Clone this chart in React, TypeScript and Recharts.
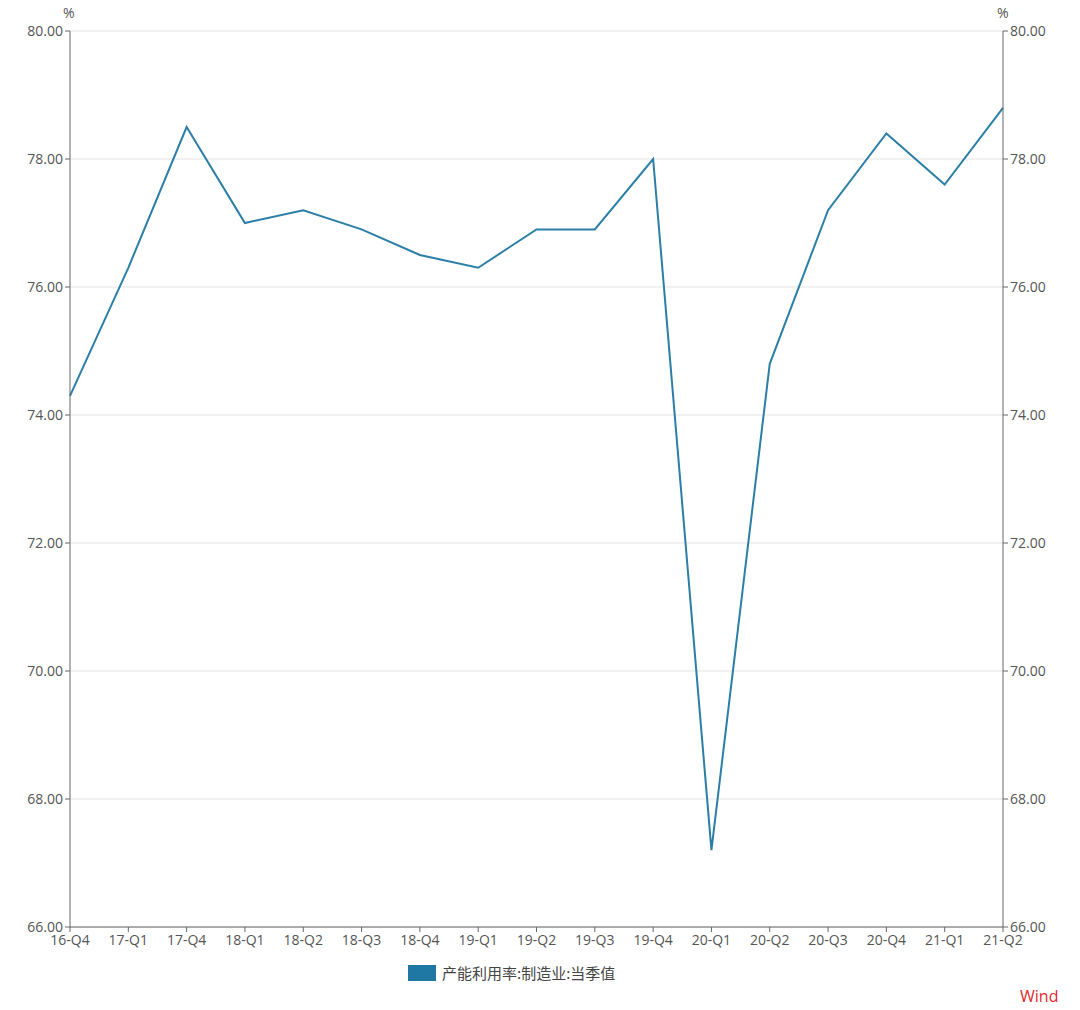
import React from "react";
import { LineChart, Line, XAxis, YAxis, CartesianGrid } from "recharts";

const quarters = ["16-Q4", "17-Q1", "17-Q4", "18-Q1", "18-Q2", "18-Q3", "18-Q4", "19-Q1", "19-Q2", "19-Q3", "19-Q4", "20-Q1", "20-Q2", "20-Q3", "20-Q4", "21-Q1", "21-Q2"];
const utilization = [74.3, 76.3, 78.5, 77.0, 77.2, 76.9, 76.5, 76.3, 76.9, 76.9, 78.0, 67.2, 74.8, 77.2, 78.4, 77.6, 78.8];
const yTicks = [66, 68, 70, 72, 74, 76, 78, 80];
const seriesName = "产能利用率:制造业:当季值";

const data = quarters.map((q, i) => ({ q, v: utilization[i] }));

const tickFont = { fontSize: 14, fill: "#555", fontFamily: "'Open Sans', 'Noto Sans', sans-serif" };

const App: React.FC = () => {
    return (
        <div style={{ position: "absolute", left: 0, top: 0, width: 1080, height: 1010, background: "#fff" }}>
            <LineChart width={1080} height={1010} data={data} margin={{ top: 31, right: 0, bottom: 53, left: 0 }}>
                <CartesianGrid vertical={false} stroke="#e3e3e3" yAxisId="left" />
                <XAxis
                    dataKey="q"
                    height={30}
                    stroke="#666"
                    tickSize={5}
                    tickMargin={3}
                    tick={tickFont}
                    interval={0}
                />
                <YAxis
                    yAxisId="left"
                    orientation="left"
                    width={70}
                    domain={[66, 80]}
                    ticks={yTicks}
                    tickFormatter={(v: number) => v.toFixed(2)}
                    stroke="#666"
                    tickSize={5}
                    tickMargin={2}
                    tick={tickFont}
                />
                <YAxis
                    yAxisId="right"
                    orientation="right"
                    width={77}
                    domain={[66, 80]}
                    ticks={yTicks}
                    tickFormatter={(v: number) => v.toFixed(2)}
                    stroke="#666"
                    tickSize={5}
                    tickMargin={2}
                    tick={tickFont}
                />
                <Line
                    yAxisId="left"
                    type="linear"
                    dataKey="v"
                    name={seriesName}
                    stroke="#2b7fa7"
                    strokeWidth={2}
                    dot={false}
                    isAnimationActive={false}
                />
                <Line
                    yAxisId="right"
                    type="linear"
                    dataKey="v"
                    stroke="none"
                    strokeOpacity={0}
                    dot={false}
                    activeDot={false}
                    isAnimationActive={false}
                />
            </LineChart>
            <div style={{ position: "absolute", left: 63, top: 3, fontSize: 14, color: "#555", fontFamily: "'Open Sans', sans-serif" }}>%</div>
            <div style={{ position: "absolute", left: 997, top: 3, fontSize: 14, color: "#555", fontFamily: "'Open Sans', sans-serif" }}>%</div>
            <div style={{ position: "absolute", left: 408, top: 962, display: "flex", alignItems: "center", fontSize: 15, color: "#444", fontFamily: "'Noto Sans CJK SC', sans-serif" }}>
                <span style={{ display: "inline-block", width: 28, height: 16, background: "#1f77a4", marginRight: 6 }} />
                <span>{seriesName}</span>
            </div>
            <div style={{ position: "absolute", left: 1020, top: 985, fontSize: 16, color: "#e0262b", fontFamily: "'Open Sans', sans-serif" }}>Wind</div>
        </div>
    );
};

export default App;
